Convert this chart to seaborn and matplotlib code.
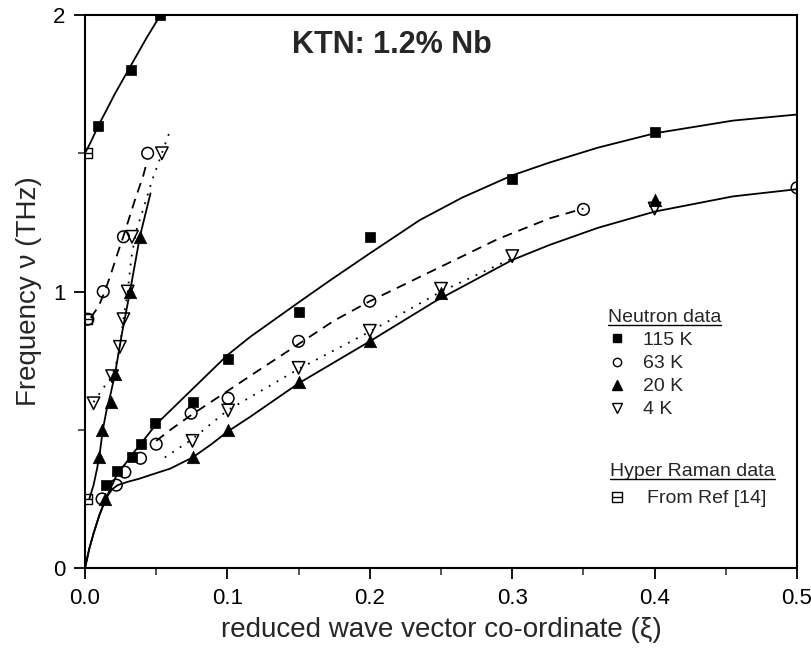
import numpy as np
import pandas as pd
import matplotlib.pyplot as plt
import seaborn as sns
from matplotlib.lines import Line2D
from matplotlib.legend_handler import HandlerTuple

# Neutron data points (reduced wave vector, frequency in THz)
sq115_x = [0.0094, 0.032, 0.053, 0.015, 0.0225, 0.033, 0.0395, 0.0495, 0.0755, 0.1005, 0.15, 0.2, 0.3, 0.4]
sq115_y = [1.60, 1.80, 2.0, 0.30, 0.35, 0.40, 0.447, 0.523, 0.60, 0.756, 0.927, 1.198, 1.406, 1.577]

ci63_x = [0.002, 0.0128, 0.027, 0.044, 0.012, 0.022, 0.028, 0.039, 0.05, 0.0745, 0.1005, 0.15, 0.2, 0.35, 0.5]
ci63_y = [0.90, 1.0, 1.198, 1.50, 0.25, 0.30, 0.347, 0.397, 0.448, 0.56, 0.614, 0.82, 0.965, 1.297, 1.375]

tr20_x = [0.0386, 0.0316, 0.021, 0.018, 0.0117, 0.0098, 0.014, 0.0755, 0.1005, 0.15, 0.2, 0.25, 0.4]
tr20_y = [1.198, 1.0, 0.70, 0.60, 0.50, 0.40, 0.25, 0.40, 0.50, 0.674, 0.82, 0.995, 1.33]

tr4_x = [0.054, 0.033, 0.030, 0.027, 0.0245, 0.019, 0.006, 0.0755, 0.1005, 0.15, 0.2, 0.25, 0.3, 0.4]
tr4_y = [1.50, 1.198, 1.0, 0.90, 0.80, 0.694, 0.596, 0.46, 0.57, 0.724, 0.858, 1.01, 1.128, 1.30]

# Hyper Raman data (from Ref [14])
hr_x = [0.0015, 0.0015, 0.0015]
hr_y = [1.50, 0.90, 0.25]

# fitted curves
c115_lo_x = [0, 0.003, 0.006, 0.010, 0.0145, 0.019, 0.023, 0.028, 0.033, 0.04, 0.05, 0.075, 0.10, 0.116,
             0.149, 0.172, 0.20, 0.235, 0.265, 0.30, 0.326, 0.36, 0.40, 0.455, 0.50]
c115_lo_y = [0, 0.07, 0.125, 0.19, 0.25, 0.30, 0.345, 0.375, 0.41, 0.455, 0.52, 0.645, 0.77, 0.836,
             0.957, 1.04, 1.138, 1.258, 1.34, 1.42, 1.466, 1.52, 1.572, 1.618, 1.64]
c115_up_x = [0.0, 0.004, 0.0094, 0.015, 0.021, 0.032, 0.043, 0.053, 0.058]
c115_up_y = [1.50, 1.54, 1.60, 1.655, 1.715, 1.815, 1.915, 2.0, 2.04]

c20_lo_x = [0, 0.003, 0.006, 0.010, 0.0145, 0.019, 0.023, 0.03, 0.038, 0.0456, 0.06, 0.0755, 0.088, 0.10,
            0.116, 0.15, 0.2, 0.246, 0.3, 0.326, 0.36, 0.4, 0.455, 0.5]
c20_lo_y = [0, 0.07, 0.125, 0.19, 0.25, 0.285, 0.30, 0.312, 0.323, 0.336, 0.36, 0.40, 0.445, 0.493,
            0.547, 0.668, 0.82, 0.965, 1.114, 1.168, 1.23, 1.289, 1.344, 1.37]
c20_up_x = [0.003, 0.006, 0.0085, 0.0105, 0.0125, 0.0155, 0.018, 0.021, 0.026, 0.0316, 0.0386, 0.046]
c20_up_y = [0.25, 0.30, 0.36, 0.42, 0.50, 0.58, 0.63, 0.70, 0.85, 1.0, 1.2, 1.355]

c63_lo_x = [0.05, 0.06, 0.075, 0.10, 0.116, 0.15, 0.175, 0.2, 0.25, 0.29, 0.326, 0.35]
c63_lo_y = [0.46, 0.50, 0.555, 0.64, 0.695, 0.81, 0.895, 0.965, 1.09, 1.19, 1.264, 1.30]
c63_up_x = [0.004, 0.0094, 0.0135, 0.018, 0.023, 0.027, 0.031, 0.035, 0.041, 0.0435]
c63_up_y = [0.905, 0.945, 0.995, 1.06, 1.14, 1.20, 1.265, 1.33, 1.42, 1.47]

c4_lo_x = [0.056, 0.075, 0.10, 0.15, 0.2, 0.25, 0.3]
c4_lo_y = [0.40, 0.465, 0.57, 0.72, 0.855, 1.0, 1.12]
c4_up_x = [0.006, 0.012, 0.019, 0.0225, 0.0245, 0.027, 0.030, 0.0325, 0.036, 0.041, 0.047, 0.054, 0.0596]
c4_up_y = [0.60, 0.645, 0.694, 0.75, 0.80, 0.90, 1.0, 1.12, 1.22, 1.30, 1.40, 1.50, 1.58]

sns.set_style("ticks")
plt.rcParams['font.family'] = ['Liberation Sans', 'DejaVu Sans']

fig = plt.figure(figsize=(8.11, 6.5), dpi=100)
ax = fig.add_axes([0.1048, 0.126, 0.878, 0.851])


def curve(xs, ys, ls):
    df = pd.DataFrame({'x': xs, 'y': ys})
    sns.lineplot(data=df, x='x', y='y', sort=False, estimator=None, color='k',
                 lw=1.3, linestyle=ls, ax=ax)


dashed = (0, (5.5, 3.8))
dotted = (0, (1, 4))
curve(c115_lo_x, c115_lo_y, '-')
curve(c115_up_x, c115_up_y, '-')
curve(c20_lo_x, c20_lo_y, '-')
curve(c20_up_x, c20_up_y, '-')
curve(c63_lo_x, c63_lo_y, dashed)
curve(c63_up_x, c63_up_y, dashed)
curve(c4_lo_x, c4_lo_y, dotted)
curve(c4_up_x, c4_up_y, dotted)

sns.scatterplot(x=sq115_x, y=sq115_y, marker='s', s=55, color='k', edgecolor='k', linewidth=0.5, ax=ax, zorder=3)
sns.scatterplot(x=ci63_x, y=ci63_y, marker='o', s=70, facecolor='none', edgecolor='k', linewidth=1.1, ax=ax, zorder=3)
sns.scatterplot(x=tr20_x, y=tr20_y, marker='^', s=80, color='k', edgecolor='k', linewidth=0.5, ax=ax, zorder=3)
sns.scatterplot(x=tr4_x, y=tr4_y, marker='v', s=80, facecolor='none', edgecolor='k', linewidth=1.1, ax=ax, zorder=3)
sns.scatterplot(x=hr_x, y=hr_y, marker='s', s=55, facecolor='none', edgecolor='k', linewidth=1.0, ax=ax, zorder=4)
sns.scatterplot(x=hr_x, y=hr_y, marker='_', s=55, color='k', linewidth=1.0, ax=ax, zorder=4)

ax.set_xlim(0, 0.5)
ax.set_ylim(0, 2)
ax.set_xticks(np.arange(0, 0.51, 0.1))
ax.set_xticklabels(['0.0', '0.1', '0.2', '0.3', '0.4', '0.5'])
ax.set_xticks(np.arange(0.05, 0.5, 0.1), minor=True)
ax.set_yticks([0, 1, 2])
ax.set_yticklabels(['0', '1', '2'])
ax.set_yticks([0.5, 1.5], minor=True)
ax.tick_params(which='major', direction='out', length=8, width=1.3, labelsize=16, colors='k', pad=6)
ax.tick_params(which='minor', direction='out', length=5, width=1.1)
for sp in ax.spines.values():
    sp.set_visible(True)
    sp.set_linewidth(1.5)
    sp.set_color('k')

ax.set_xlabel('reduced wave vector co-ordinate (ξ)', fontsize=20, labelpad=6)
ax.set_ylabel('Frequency ν (THz)', fontsize=20, labelpad=8)
ax.text(0.431, 0.946, 'KTN: 1.2% Nb', transform=ax.transAxes, ha='center', va='center',
        fontsize=22, fontweight='bold')

# legends
h115 = Line2D([], [], marker='s', ls='none', color='k', ms=5.5)
h63 = Line2D([], [], marker='o', ls='none', mfc='none', mec='k', ms=6)
h20 = Line2D([], [], marker='^', ls='none', color='k', ms=7)
h4 = Line2D([], [], marker='v', ls='none', mfc='none', mec='k', ms=7)
leg1 = ax.legend([h115, h63, h20, h4], ['115 K', '63 K', '20 K', '4 K'], title='Neutron data',
                 loc='upper left', bbox_to_anchor=(0.734, 0.468), frameon=False, fontsize=14,
                 title_fontsize=14, handlelength=1.0, handletextpad=0.8, labelspacing=0.28,
                 borderpad=0, borderaxespad=0, alignment='left')
ax.add_artist(leg1)
hsq = Line2D([], [], marker='s', ls='none', mfc='none', mec='k', ms=7)
hln = Line2D([], [], marker='_', ls='none', color='k', ms=7)
leg2 = ax.legend([(hsq, hln)], ['From Ref [14]'], title='Hyper Raman data',
                 handler_map={tuple: HandlerTuple(ndivide=1, pad=0)},
                 loc='upper left', bbox_to_anchor=(0.738, 0.19), frameon=False, fontsize=14,
                 title_fontsize=14, handlelength=0.7, handletextpad=1.2, borderpad=0,
                 borderaxespad=0, alignment='left')

# underline legend titles
fig.canvas.draw()
inv = fig.transFigure.inverted()
for lg in (leg1, leg2):
    bb = lg.get_title().get_window_extent()
    (x0, y0), (x1, _) = inv.transform([(bb.x0, bb.y0 + 1), (bb.x1, bb.y0 + 1)])
    fig.add_artist(Line2D([x0, x1], [y0, y0], color='k', lw=1.0))

fig.savefig('out.png', dpi=100)
